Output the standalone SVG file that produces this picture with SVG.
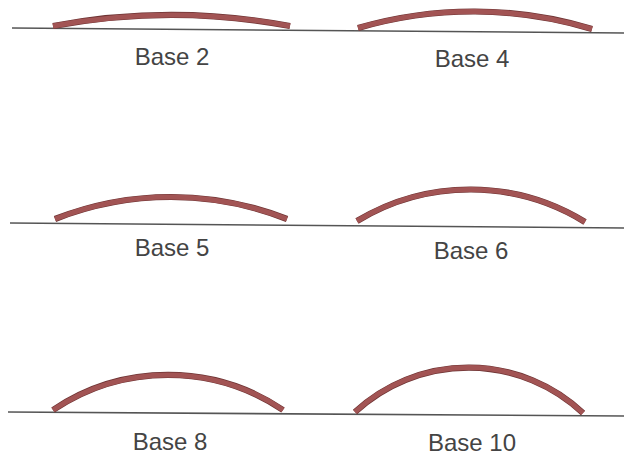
<svg xmlns="http://www.w3.org/2000/svg" width="624" height="457" viewBox="0 0 624 457">
<style>
.ground{stroke:#555;stroke-width:1.6;fill:none}
.arch{fill:none;stroke:#a25454;stroke-width:5;stroke-linecap:butt}
.archedge{fill:none;stroke:#6e3434;stroke-width:6.2;stroke-linecap:butt}
.lbl{font-family:"Liberation Sans",Arial,sans-serif;font-size:24px;fill:#444;text-anchor:middle}
</style>
<rect width="624" height="457" fill="#fff"/>
<g id="ground-lines">
<line class="ground" x1="12" y1="28" x2="624" y2="33"/>
<line class="ground" x1="10" y1="223" x2="624" y2="228"/>
<line class="ground" x1="8" y1="412" x2="624" y2="416"/>
</g>
<g id="base2">
<path class="archedge" d="M53,26 A644,644 0 0 1 290,26"/>
<path class="arch" d="M53,26 A644,644 0 0 1 290,26"/>
<text class="lbl" x="172" y="65">Base 2</text>
</g>
<g id="base4">
<path class="archedge" d="M358,28 A411,411 0 0 1 592,29"/>
<path class="arch" d="M358,28 A411,411 0 0 1 592,29"/>
<text class="lbl" x="472" y="67">Base 4</text>
</g>
<g id="base5">
<path class="archedge" d="M55,219 A317,317 0 0 1 287,219"/>
<path class="arch" d="M55,219 A317,317 0 0 1 287,219"/>
<text class="lbl" x="172" y="256">Base 5</text>
</g>
<g id="base6">
<path class="archedge" d="M357,221 A219,219 0 0 1 585,222"/>
<path class="arch" d="M357,221 A219,219 0 0 1 585,222"/>
<text class="lbl" x="471" y="259">Base 6</text>
</g>
<g id="base8">
<path class="archedge" d="M53,410 A206,206 0 0 1 283,410"/>
<path class="arch" d="M53,410 A206,206 0 0 1 283,410"/>
<text class="lbl" x="170" y="450">Base 8</text>
</g>
<g id="base10">
<path class="archedge" d="M355,412 A167,167 0 0 1 583,413"/>
<path class="arch" d="M355,412 A167,167 0 0 1 583,413"/>
<text class="lbl" x="472" y="451">Base 10</text>
</g>
</svg>
